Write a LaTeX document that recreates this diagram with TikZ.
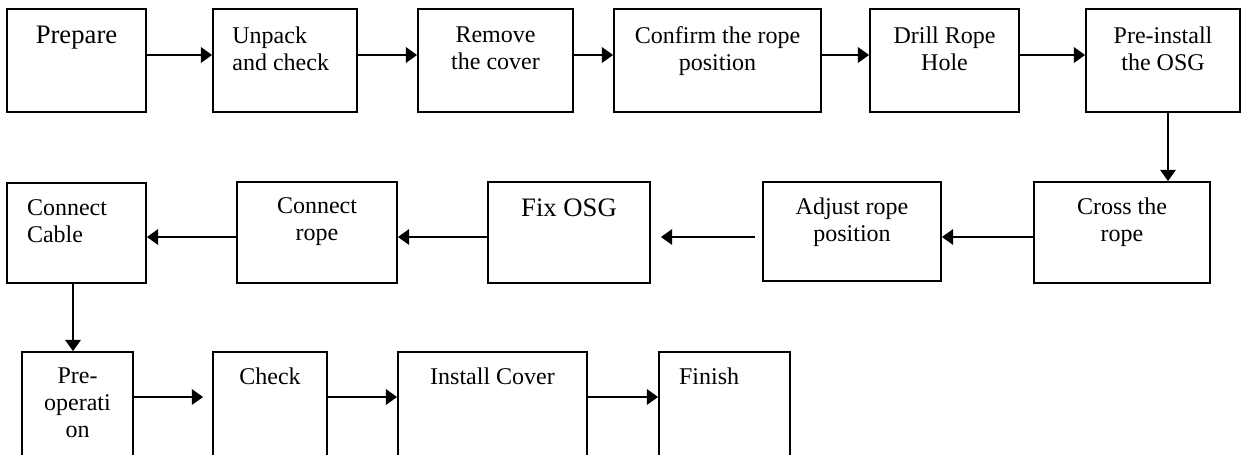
\documentclass[tikz,border=0pt]{standalone}
\usepackage{fontspec}
\setmainfont{Liberation Serif}
\usetikzlibrary{arrows.meta,calc}
\newcommand\flowbox[5]{%
  \node[box, minimum width={(#4-#2)*0.75pt}, minimum height={(#5-#3)*0.75pt}]
    (#1) at ({(#2+#4)/2},{(#3+#5)/2}) {};}
\begin{document}
\begin{tikzpicture}[x=0.75pt,y=-0.75pt,
  box/.style={draw=black, line width=1.3pt, inner sep=0pt, fill=none},
  lbl/.style={inner sep=0pt, font=\fontsize{18}{20.25}\selectfont},
  biglbl/.style={inner sep=0pt, font=\fontsize{20}{22.5}\selectfont},
  arr/.style={draw=black, line width=2pt, -{Triangle[length=8.5pt,width=11.5pt]}}]
\useasboundingbox (0,0) rectangle (1242,454);
\clip (0,0) rectangle (1242,454);
% row 1
\flowbox{b1}{7}{9}{146}{112}
\flowbox{b2}{213}{9}{357}{112}
\flowbox{b3}{418}{9}{573}{112}
\flowbox{b4}{614}{9}{821}{112}
\flowbox{b5}{870}{9}{1019}{112}
\flowbox{b6}{1086}{9}{1240}{112}
% row 2
\flowbox{b7}{1034}{182}{1210}{283}
\flowbox{b8}{763}{182}{941}{281}
\flowbox{b9}{488}{182}{650}{283}
\flowbox{b10}{237}{182}{397}{283}
\flowbox{b11}{7}{183}{146}{283}
% row 3
\flowbox{b12}{22}{352}{133}{480}
\flowbox{b13}{213}{352}{327}{480}
\flowbox{b14}{398}{352}{587}{480}
\flowbox{b15}{659}{352}{790}{480}
% labels
\node[biglbl, anchor=north, align=center] (t1) at ([yshift=-13.5pt]b1.north) {Prepare};
\node[lbl, anchor=north west, align=left] (t2) at ([xshift=15pt,yshift=-13.5pt]b2.north west) {Unpack\\and check};
\node[lbl, anchor=north, align=center] (t3) at ([yshift=-13.5pt]b3.north) {Remove\\the cover};
\node[lbl, anchor=north, align=center] (t4) at ([yshift=-13.5pt]b4.north) {Confirm the rope\\position};
\node[lbl, anchor=north, align=center] (t5) at ([yshift=-13.5pt]b5.north) {Drill Rope\\Hole};
\node[lbl, anchor=north, align=center] (t6) at ([yshift=-13.5pt]b6.north) {Pre-install\\the OSG};
\node[lbl, anchor=north, align=center] (t7) at ([yshift=-12pt]b7.north) {Cross the\\rope};
\node[lbl, anchor=north, align=center] (t8) at ([yshift=-12pt]b8.north) {Adjust rope\\position};
\node[biglbl, anchor=north, align=center] (t9) at ([yshift=-13pt]b9.north) {Fix OSG};
\node[lbl, anchor=north, align=center] (t10) at ([yshift=-12.5pt]b10.north) {Connect\\rope};
\node[lbl, anchor=north west, align=left] (t11) at ([xshift=15.5pt,yshift=-13pt]b11.north west) {Connect\\Cable};
\node[lbl, anchor=north, align=center] (t12) at ([yshift=-12.5pt]b12.north) {Pre-\\operati\\on};
\node[lbl, anchor=north, align=center] (t13) at ([yshift=-12.5pt]b13.north) {Check};
\node[lbl, anchor=north, align=center] (t14) at ([yshift=-12.5pt]b14.north) {Install Cover};
\node[lbl, anchor=north west, align=left] (t15) at ([xshift=15.5pt,yshift=-12.5pt]b15.north west) {Finish};
% arrow rows / columns
\coordinate (r1) at (0,55);
\coordinate (r2) at (0,237);
\coordinate (r3) at (0,397);
\coordinate (c1) at (1168,0);
\coordinate (c2) at (73,0);
% row 1 arrows
\draw[arr] (b1.east |- r1) -- (b2.west |- r1);
\draw[arr] (b2.east |- r1) -- (b3.west |- r1);
\draw[arr] (b3.east |- r1) -- (b4.west |- r1);
\draw[arr] (b4.east |- r1) -- (b5.west |- r1);
\draw[arr] (b5.east |- r1) -- (b6.west |- r1);
% down
\draw[arr] (b6.south -| c1) -- (b7.north -| c1);
% row 2 arrows
\draw[arr] (b7.west |- r2) -- (b8.east |- r2);
\draw[arr] ($(b8.west |- r2)+(-7,0)$) -- ($(b9.east |- r2)+(10,0)$);
\draw[arr] (b9.west |- r2) -- (b10.east |- r2);
\draw[arr] (b10.west |- r2) -- (b11.east |- r2);
% down
\draw[arr] (b11.south -| c2) -- (b12.north -| c2);
% row 3 arrows
\draw[arr] (b12.east |- r3) -- ($(b13.west |- r3)+(-9,0)$);
\draw[arr] (b13.east |- r3) -- (b14.west |- r3);
\draw[arr] (b14.east |- r3) -- (b15.west |- r3);
\end{tikzpicture}
\end{document}
